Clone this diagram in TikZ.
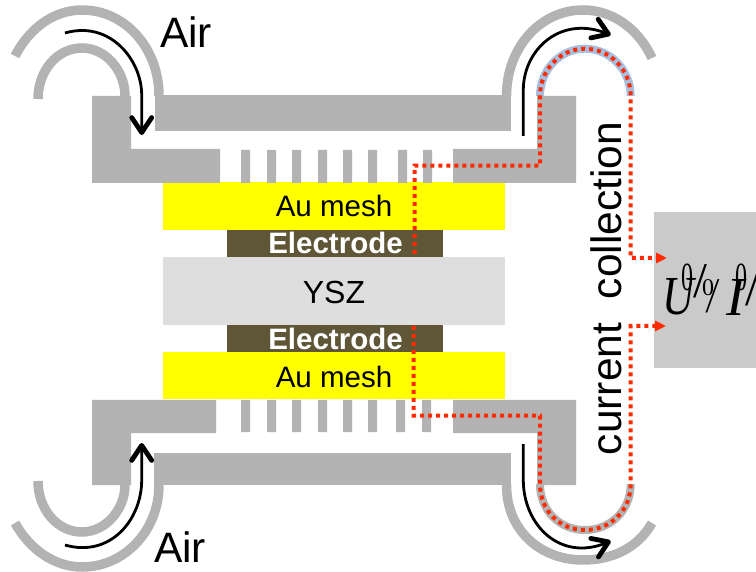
\documentclass[tikz,border=0pt]{standalone}
\usepackage{xcolor}
\usepackage{fontspec}
\setmainfont{Liberation Sans}
\newfontfamily\formulafont{Liberation Serif}
\usetikzlibrary{
    arrows.meta
}
\definecolor{flangegray}{HTML}{B3B3B3}
\definecolor{meshyellow}{HTML}{FFFF00}
\definecolor{electrodebrown}{HTML}{5F5637}
\definecolor{yszgray}{HTML}{DEDEDE}
\definecolor{meterbox}{HTML}{CACACA}
\definecolor{wireblue}{HTML}{A6BFDF}
\definecolor{wirered}{HTML}{FF2A00}

\begin{document}
\begin{tikzpicture}[
    x=1pt,
    y=-1pt,
    layer/.style={
        rectangle,
        inner sep=0pt,
        outer sep=0pt,
        text=black
    },
    flange/.style={
        fill=flangegray
    },
    tube/.style={
        draw=flangegray,
        line width=9.5pt
    },
    flow/.style={
        draw=black,
        line width=2.8pt,
        -{Straight Barb[length=15pt,width=20pt,line width=4.8pt,round]}
    },
    wire/.style={
        draw=wirered,
        line width=4pt,
        dash pattern=on 4pt off 4pt
    },
    wiretip/.style={
        -{Triangle[length=11pt,width=10pt]}
    },
    bigtext/.style={
        font=\fontsize{42.5}{44}\selectfont,
        inner sep=0pt,
        anchor=base
    },
    midtext/.style={
        font=\fontsize{29.5}{31}\selectfont,
        inner sep=0pt,
        anchor=base
    },
    elecfont/.style={
        font=\fontsize{29.5}{31}\selectfont\bfseries,
        text=white,
        inner sep=0pt,
        anchor=base
    },
    symbol/.style={
        inner sep=0pt,
        anchor=center
    }
]
\useasboundingbox (0,0) rectangle (756,572);

% =========================================================
% Cell layers
% =========================================================
\node[layer, fill=meshyellow, minimum width=342pt, minimum height=48pt] (meshtop) at (334,206) {};
\node[layer, fill=electrodebrown, minimum width=216pt, minimum height=28pt] (electop) at (335,244) {};
\node[layer, fill=yszgray, minimum width=342pt, minimum height=68pt] (ysz) at (334,291) {};
\node[layer, fill=electrodebrown, minimum width=216pt, minimum height=27pt] (elecbot) at (335,338.5) {};
\node[layer, fill=meshyellow, minimum width=342pt, minimum height=47pt] (meshbot) at (334,375.5) {};
\node[layer, fill=meterbox, minimum width=102pt, minimum height=156pt] (meter) at (705,290) {};

% =========================================================
% Upper flange
% =========================================================
\fill[flange] (92,96) -- (131,96) -- (131,149) -- (220,149) -- (220,183) -- (92,183) -- cycle;
\fill[flange] (155,95) rectangle (511,131);
\fill[flange] (453,149) -- (537,149) -- (537,96) -- (576,96) -- (576,183) -- (453,183) -- cycle;
\fill[flange] (241,150) rectangle (250,183) (267,150) rectangle (276,183)
    (292,150) rectangle (301,183) (318,150) rectangle (327,183)
    (343,150) rectangle (352,183) (368,150) rectangle (377,183)
    (398,150) rectangle (407,183) (423,150) rectangle (432,183);

% =========================================================
% Lower flange
% =========================================================
\fill[flange] (92,400) -- (216,400) -- (216,433) -- (131,433) -- (131,485) -- (92,485) -- cycle;
\fill[flange] (154,453) rectangle (511,485);
\fill[flange] (453,400) -- (576,400) -- (576,485) -- (537,485) -- (537,433) -- (453,433) -- cycle;
\fill[flange] (241,400) rectangle (250,432) (267,400) rectangle (276,432)
    (292,400) rectangle (301,432) (318,400) rectangle (327,432)
    (343,400) rectangle (352,432) (368,400) rectangle (377,432)
    (396,400) rectangle (405,432) (422,400) rectangle (431,432);

% =========================================================
% Tubes
% =========================================================
\draw[tube] (15,56) .. controls (30,27) and (55,10) .. (82,10) .. controls (125,10) and (159,48) .. (159,96);
\draw[tube] (38,99) .. controls (38,71) and (57,48) .. (82,48) .. controls (106,48) and (125,71) .. (125,96);
\draw[tube] (15,523) .. controls (30,550) and (55,567) .. (82,567) .. controls (125,567) and (159,530) .. (159,485);
\draw[tube] (38,481) .. controls (38,509) and (57,532) .. (82,532) .. controls (106,532) and (125,509) .. (125,485);
\draw[tube] (506.5,96) .. controls (506.5,48) and (540,10) .. (583,10) .. controls (612,10) and (638,28) .. (652,58);
\draw[tube] (506.5,485) .. controls (506.5,530) and (540,560) .. (583,560) .. controls (612,560) and (638,548) .. (652,523);
\draw[draw=wireblue, line width=8pt] (540,96) .. controls (540,70) and (560,48.7) .. (585,48.7) .. controls (610,48.7) and (630.7,70) .. (630.7,96);
\draw[draw=flangegray, line width=8pt] (540,484) .. controls (540,511) and (560,530) .. (585,530) .. controls (610,530) and (630.7,511) .. (630.7,484);

% =========================================================
% Air flow
% =========================================================
\draw[flow] (65,33) .. controls (110,20) and (141.7,60) .. (141.7,95) -- (141.7,135);
\draw[flow] (65,545) .. controls (110,558) and (141.7,520) .. (141.7,480) -- (141.7,443);
\draw[flow] (523.3,136) -- (523.3,90) .. controls (523.3,50) and (560,15) .. (610.7,35);
\draw[flow] (523.3,444) -- (523.3,480) .. controls (523.3,525) and (560,562) .. (610.7,541);

% =========================================================
% Current collection wires
% =========================================================
\coordinate (topstart) at (414.7,254);
\coordinate (topend) at (667,258);
\coordinate (botstart) at (413.7,326);
\coordinate (botend) at (666,326);

\draw[wire, wiretip] (topstart) -- (414.7,165.7) -- (540,165.7) -- (540,96)
    .. controls (540,70) and (560,48.7) .. (585,48.7) .. controls (610,48.7) and (630.7,70) .. (630.7,96)
    -- (630.7,258) -- (topend);
\draw[wire, wiretip] (botstart) -- (413.7,415.7) -- (540,415.7) -- (540,484)
    .. controls (540,511) and (560,530) .. (585,530) .. controls (610,530) and (630.7,511) .. (630.7,484)
    -- (630.7,326) -- (botend);

% =========================================================
% Labels
% =========================================================
\node[bigtext] (airtop) at (186,48) {Air};
\node[bigtext] (airbot) at (180,562) {Air};
\node[bigtext, rotate=90] (collect) at (621,210.5) {collection};
\node[bigtext, rotate=90] (current) at (621.5,389) {current};
\node[midtext] (meshtoplabel) at (334,217) {Au mesh};
\node[midtext] (meshbotlabel) at (334,388) {Au mesh};
\node[midtext, font=\fontsize{32}{34}\selectfont] (ysztext) at (334,304) {YSZ};
\node[elecfont] (electoplabel) at (335.5,254) {Electrode};
\node[elecfont] (elecbotlabel) at (335.5,350) {Electrode};

% =========================================================
% Meter symbols
% =========================================================
\node[symbol, font=\formulafont\itshape\fontsize{55}{55}\selectfont] (symu) at (678,297) {\scalebox{.8}[1]{U}};
\node[symbol, font=\formulafont\fontsize{40}{40}\selectfont] (zeroa) at (687,277) {\scalebox{.6}[1]{0}};
\node[symbol, font=\formulafont\fontsize{50}{50}\selectfont] (slasha) at (700,281) {/};
\node[symbol, font=\formulafont\fontsize{24}{24}\selectfont] (zerob) at (708,288) {0};
\node[symbol, font=\formulafont\itshape\fontsize{50}{50}\selectfont] (slashb) at (712,296) {\scalebox{.7}[1]{/}};
\node[symbol, font=\formulafont\itshape\fontsize{55}{55}\selectfont] (symi) at (736,297) {I};
\node[symbol, font=\formulafont\fontsize{40}{40}\selectfont] (zeroc) at (741,277) {\scalebox{.6}[1]{0}};
\node[symbol, font=\formulafont\fontsize{50}{50}\selectfont] (slashc) at (752,289) {/};
\end{tikzpicture}
\end{document}
